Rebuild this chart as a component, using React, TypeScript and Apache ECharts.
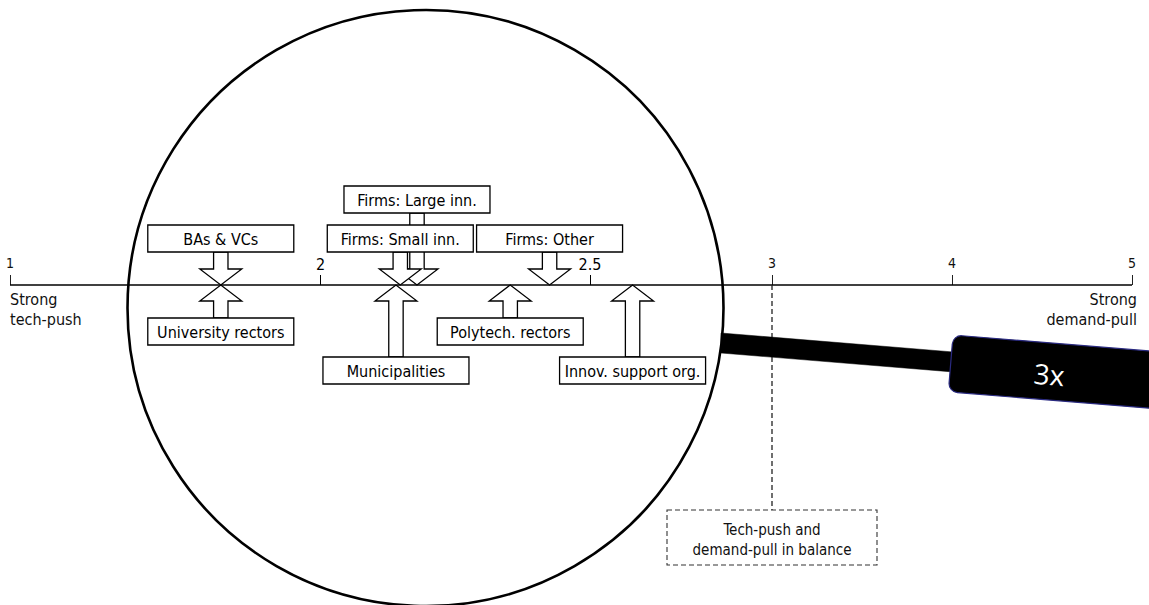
import React, { useEffect, useRef } from 'react';
import * as echarts from 'echarts';

// ---- data ----
const ACTORS = [
  'Firms: Large inn.',
  'Firms: Small inn.',
  'BAs & VCs',
  'Firms: Other',
  'University rectors',
  'Municipalities',
  'Polytech. rectors',
  'Innov. support org.',
];
const SCORES = [2.179, 2.148, 1.815, 2.425, 1.815, 2.14, 2.352, 2.579];
const SIDE = ['above', 'above', 'above', 'above', 'below', 'below', 'below', 'below'];
const LEVEL = [2, 1, 1, 1, 1, 2, 1, 2];

const ZOOM_TICKS = [2, 2.5];
const ZOOM_TICK_LABELS = ['2', '2.5'];
const SCALE_TICKS = [3, 4, 5];
const SCALE_TICK_LABELS = ['1', '3', '4', '5'];
const BALANCE = [3];
const BALANCE_LABEL = 'Tech-push and\ndemand-pull in balance';
const LEFT_END = 'Strong\ntech-push';
const RIGHT_END = 'Strong\ndemand-pull';
const ZOOM_LABEL = '3x';

// ---- layout ----
const W = 1149;
const H = 605;
const GRID_LEFT = 4;
const GRID_RIGHT = 17;
const AXIS_Y = 285;
const ZOOM_PX_PER_UNIT = 539;
const ZOOM_MIN = 2 - (320.5 - GRID_LEFT) / ZOOM_PX_PER_UNIT;
const ZOOM_MAX = 2 + (W - GRID_RIGHT - 320.5) / ZOOM_PX_PER_UNIT;
const OUTER_PX_PER_UNIT = 180;
const OUTER_MAX = 5;
const OUTER_MIN = OUTER_MAX - (W - GRID_LEFT - GRID_RIGHT) / OUTER_PX_PER_UNIT;
const AXIS_START = OUTER_MIN + 6 / OUTER_PX_PER_UNIT; // axis visibly starts at x = 10

const FONT = '"DejaVu Sans Condensed", "DejaVu Sans", sans-serif';
const BOX_W = 146;
const BOX_H = 27;
const STEM = 7.2;
const HEAD = 21;
const HEAD_H = 16;
const GAP = { 1: 33, 2: 72 } as Record<number, number>;

function renderActor(params: any, api: any) {
  const i = params.dataIndex;
  const pt = api.coord([api.value(0), 0]);
  const x = pt[0];
  const y0 = pt[1];
  const dir = SIDE[i] === 'above' ? -1 : 1;
  const near = y0 + dir * GAP[LEVEL[i]];
  const base = y0 + dir * HEAD_H;
  const pts = [
    [x - STEM, near],
    [x - STEM, base],
    [x - HEAD, base],
    [x, y0],
    [x + HEAD, base],
    [x + STEM, base],
    [x + STEM, near],
  ];
  const boxY = dir < 0 ? near - BOX_H : near;
  return {
    type: 'group',
    children: [
      {
        type: 'polygon',
        shape: { points: pts },
        style: { fill: '#fff', stroke: '#000', lineWidth: 1.3 },
      },
      {
        type: 'rect',
        shape: { x: x - BOX_W / 2, y: boxY, width: BOX_W, height: BOX_H },
        style: { fill: '#fff', stroke: '#000', lineWidth: 1.3 },
      },
      {
        type: 'text',
        x: x,
        y: boxY + BOX_H / 2 + 1,
        style: {
          text: ACTORS[i],
          align: 'center',
          verticalAlign: 'middle',
          font: `16px ${FONT}`,
          fill: '#000',
        },
      },
    ],
  };
}

function renderBalance(params: any, api: any) {
  const pt = api.coord([api.value(0), 0]);
  const x = pt[0];
  const y0 = pt[1];
  const boxTop = 510;
  const boxW = 210;
  const boxH = 55;
  return {
    type: 'group',
    children: [
      {
        type: 'line',
        shape: { x1: x, y1: y0, x2: x, y2: boxTop },
        style: { stroke: '#222', lineWidth: 1.3, lineDash: [5, 3] },
      },
      {
        type: 'rect',
        shape: { x: x - boxW / 2, y: boxTop, width: boxW, height: boxH },
        style: { fill: '#fff', stroke: '#333', lineWidth: 1.1, lineDash: [5, 3] },
      },
      {
        type: 'text',
        x: x,
        y: boxTop + boxH / 2 + 2,
        style: {
          text: BALANCE_LABEL,
          align: 'center',
          verticalAlign: 'middle',
          lineHeight: 20,
          font: `15px ${FONT}`,
          fill: '#111',
        },
      },
    ],
  };
}

const OUTER_TICK_POS = [AXIS_START, ...SCALE_TICKS];

export default function App() {
  const ref = useRef<HTMLDivElement>(null);
  useEffect(() => {
    if (!ref.current) return;
    const chart = echarts.init(ref.current, null, { renderer: 'svg' });
    const grid = {
      left: GRID_LEFT,
      right: GRID_RIGHT,
      top: 0,
      height: AXIS_Y,
      containLabel: false,
      outerBoundsMode: 'none',
    };
    const angle = Math.atan2(19.5, 239);
    chart.setOption({
      animation: false,
      backgroundColor: '#fff',
      grid: [grid, { ...grid }],
      xAxis: [
        {
          type: 'value',
          gridIndex: 0,
          min: ZOOM_MIN,
          max: ZOOM_MAX,
          position: 'bottom',
          axisLine: { show: false },
          splitLine: { show: false },
          axisTick: {
            show: true,
            inside: true,
            length: 10,
            customValues: ZOOM_TICKS,
            lineStyle: { color: '#000', width: 1 },
          },
          axisLabel: {
            inside: true,
            margin: 13,
            customValues: ZOOM_TICKS,
            formatter: (v: number) =>
              ZOOM_TICK_LABELS[ZOOM_TICKS.findIndex((t) => Math.abs(t - v) < 1e-6)] ?? '',
            fontFamily: FONT,
            fontSize: 16,
            color: '#000',
          },
        },
        {
          type: 'value',
          gridIndex: 1,
          min: OUTER_MIN,
          max: OUTER_MAX,
          position: 'bottom',
          axisLine: { show: false },
          splitLine: { show: false },
          axisTick: {
            show: true,
            inside: true,
            length: 10,
            customValues: OUTER_TICK_POS,
            lineStyle: { color: '#222', width: 1 },
          },
          axisLabel: {
            inside: true,
            margin: 15,
            customValues: OUTER_TICK_POS,
            formatter: (v: number) =>
              SCALE_TICK_LABELS[OUTER_TICK_POS.findIndex((t) => Math.abs(t - v) < 1e-6)] ?? '',
            fontFamily: FONT,
            fontSize: 14,
            color: '#111',
          },
        },
      ],
      yAxis: [
        { type: 'value', gridIndex: 0, min: 0, max: 1, show: false },
        { type: 'value', gridIndex: 1, min: 0, max: 1, show: false },
      ],
      series: [
        {
          type: 'custom',
          xAxisIndex: 1,
          yAxisIndex: 1,
          clip: false,
          z: 1,
          data: [[AXIS_START, OUTER_MAX]],
          encode: { x: [0, 1] },
          renderItem: (params: any, api: any) => {
            const a = api.coord([api.value(0), 0]);
            const b = api.coord([api.value(1), 0]);
            return {
              type: 'line',
              shape: { x1: a[0], y1: a[1], x2: b[0], y2: b[1] },
              style: { stroke: '#000', lineWidth: 1.6 },
            };
          },
        },
        {
          type: 'custom',
          xAxisIndex: 1,
          yAxisIndex: 1,
          clip: false,
          z: 1,
          data: BALANCE.map((v) => [v]),
          encode: { x: 0 },
          renderItem: renderBalance,
        },
        {
          type: 'custom',
          xAxisIndex: 0,
          yAxisIndex: 0,
          clip: false,
          z: 5,
          data: SCORES.map((v) => [v]),
          encode: { x: 0 },
          renderItem: renderActor,
        },
      ],
      graphic: [
        {
          type: 'text',
          x: 10,
          y: 289,
          z: 20,
          style: {
            text: LEFT_END,
            font: `16px ${FONT}`,
            lineHeight: 20,
            fill: '#111',
            align: 'left',
            verticalAlign: 'top',
          },
        },
        {
          type: 'text',
          x: 1137,
          y: 289,
          z: 20,
          style: {
            text: RIGHT_END,
            font: `16px ${FONT}`,
            lineHeight: 20,
            fill: '#111',
            align: 'right',
            verticalAlign: 'top',
          },
        },
        {
          type: 'polygon',
          z: 40,
          shape: {
            points: [
              [721, 333],
              [962, 352.7],
              [962, 372.7],
              [721, 353],
            ],
          },
          style: { fill: '#000', stroke: '#000', lineWidth: 0.5 },
        },
        {
          type: 'group',
          x: 953,
          y: 335,
          rotation: -angle,
          z: 41,
          children: [
            {
              type: 'rect',
              z: 41,
              shape: { x: 0, y: 0, width: 330, height: 57, r: 9 },
              style: { fill: '#000', stroke: '#2a2a80', lineWidth: 1.2 },
            },
            {
              type: 'text',
              z: 42,
              x: 99,
              y: 31,
              style: {
                text: ZOOM_LABEL,
                font: '28px "Open Sans", "DejaVu Sans", sans-serif',
                fill: '#fff',
                align: 'center',
                verticalAlign: 'middle',
              },
            },
          ],
        },
        {
          type: 'circle',
          z: 50,
          shape: { cx: 425.5, cy: 308, r: 298 },
          style: { fill: 'none', stroke: '#000', lineWidth: 2.6 },
        },
      ],
    });
    return () => chart.dispose();
  }, []);
  return (
    <div
      ref={ref}
      style={{ position: 'absolute', left: 0, top: 0, width: W, height: H, background: '#fff' }}
    />
  );
}
